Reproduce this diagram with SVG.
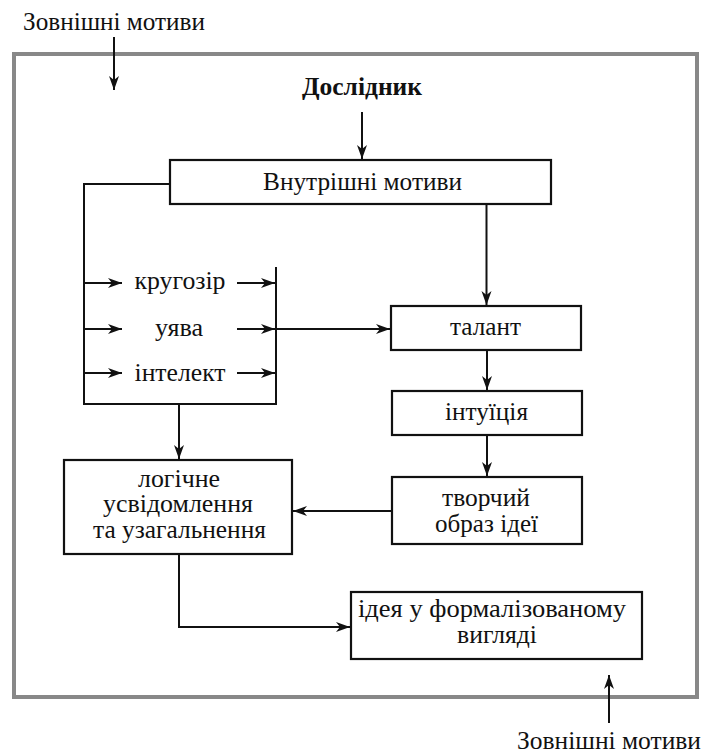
<svg xmlns="http://www.w3.org/2000/svg" width="704" height="756" viewBox="0 0 704 756">
<style>
text{font-family:'Liberation Serif','DejaVu Serif','Noto Serif',serif;font-size:25px;fill:#111;text-anchor:middle}
.b{font-weight:bold}
.box{fill:#fff;stroke:#111;stroke-width:2.2}
.ln{fill:none;stroke:#111;stroke-width:2}
.ar{fill:none;stroke:#111;stroke-width:2;marker-end:url(#ah)}
.frame{fill:none;stroke:#888;stroke-width:4}
</style>
<defs>
<marker id="ah" markerUnits="userSpaceOnUse" markerWidth="16" markerHeight="12" refX="14" refY="5" orient="auto">
<path d="M0,0 L14,5 L0,10 L4,5 Z" fill="#111"/>
</marker>
</defs>
<rect x="0" y="0" width="704" height="756" fill="#fff"/>
<rect class="frame" x="14" y="54" width="683" height="643"/>
<g id="ext-top"><text x="114" y="30" textLength="182" lengthAdjust="spacingAndGlyphs">Зовнішні мотиви</text></g>
<g id="researcher"><text class="b" x="362" y="95" textLength="120" lengthAdjust="spacingAndGlyphs">Дослідник</text></g>
<g id="inner"><rect class="box" x="170" y="160" width="381" height="44"/><text x="362.5" y="190" textLength="199" lengthAdjust="spacingAndGlyphs">Внутрішні мотиви</text></g>
<g id="outlook"><text x="180" y="289" textLength="91" lengthAdjust="spacingAndGlyphs">кругозір</text></g>
<g id="imagination"><text x="179" y="336" textLength="48" lengthAdjust="spacingAndGlyphs">уява</text></g>
<g id="intellect"><text x="180" y="381" textLength="91" lengthAdjust="spacingAndGlyphs">інтелект</text></g>
<g id="talent"><rect class="box" x="391" y="306" width="190" height="44"/><text x="485.5" y="335" textLength="71" lengthAdjust="spacingAndGlyphs">талант</text></g>
<g id="intuition"><rect class="box" x="392" y="391" width="190" height="44"/><text x="486.5" y="420" textLength="83" lengthAdjust="spacingAndGlyphs">інтуїція</text></g>
<g id="creative"><rect class="box" x="392" y="477" width="190" height="67"/><text x="486" y="506" textLength="88" lengthAdjust="spacingAndGlyphs">творчий</text><text x="486.5" y="532" textLength="103" lengthAdjust="spacingAndGlyphs">образ ідеї</text></g>
<g id="logical"><rect class="box" x="64" y="460" width="228" height="94"/><text x="179" y="487" textLength="82" lengthAdjust="spacingAndGlyphs">логічне</text><text x="178" y="512" textLength="150" lengthAdjust="spacingAndGlyphs">усвідомлення</text><text x="179.5" y="538" textLength="173" lengthAdjust="spacingAndGlyphs">та узагальнення</text></g>
<g id="idea"><rect class="box" x="351" y="592" width="291" height="67"/><text x="492" y="617" textLength="268" lengthAdjust="spacingAndGlyphs">ідея у формалізованому</text><text x="497" y="643" textLength="80" lengthAdjust="spacingAndGlyphs">вигляді</text></g>
<g id="ext-bottom"><text x="517" y="749" style="text-anchor:start" textLength="184" lengthAdjust="spacingAndGlyphs">Зовнішні мотиви</text></g>
<g id="connectors">
<line class="ar" x1="114" y1="37" x2="114" y2="90"/>
<line class="ar" x1="362" y1="112" x2="362" y2="159"/>
<line class="ar" x1="486.5" y1="204" x2="486.5" y2="305"/>
<polyline class="ln" points="170,184 84,184 84,404 277,404"/>
<line class="ln" x1="276" y1="267" x2="276" y2="405"/>
<line class="ar" x1="84" y1="283" x2="122" y2="283"/>
<line class="ar" x1="84" y1="329" x2="122" y2="329"/>
<line class="ar" x1="84" y1="373" x2="122" y2="373"/>
<line class="ar" x1="237" y1="283" x2="275" y2="283"/>
<line class="ar" x1="237" y1="329" x2="275" y2="329"/>
<line class="ar" x1="237" y1="373" x2="275" y2="373"/>
<line class="ar" x1="276" y1="329" x2="390" y2="329"/>
<line class="ar" x1="179" y1="404" x2="179" y2="459"/>
<line class="ar" x1="487" y1="350" x2="487" y2="390"/>
<line class="ar" x1="487" y1="435" x2="487" y2="476"/>
<line class="ar" x1="392" y1="511" x2="293" y2="511"/>
<polyline class="ar" points="179,554 179,627 350,627"/>
<line class="ar" x1="609" y1="723" x2="609" y2="675"/>
</g>
</svg>
